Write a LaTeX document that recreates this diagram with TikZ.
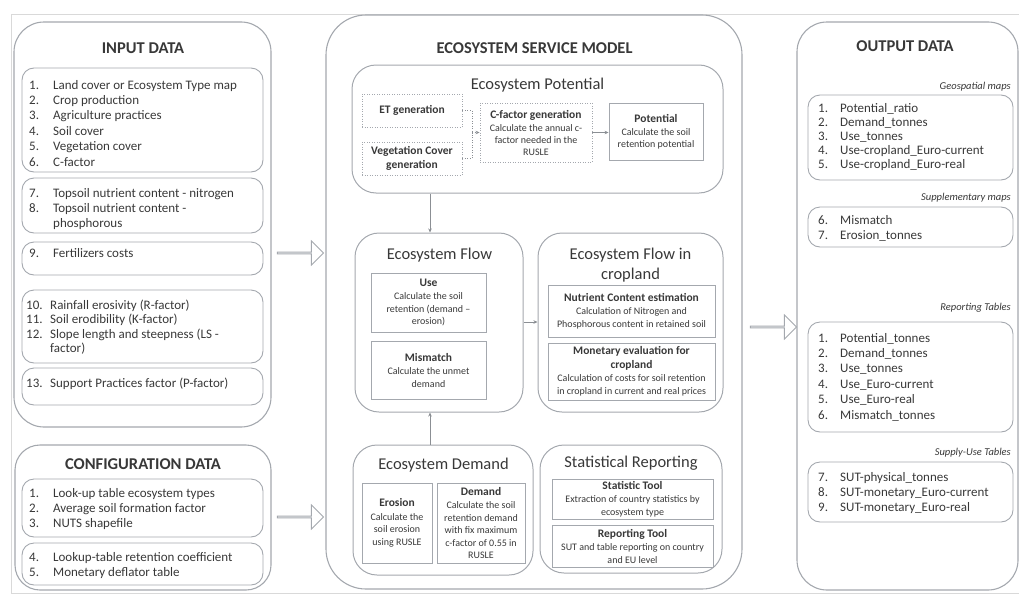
\documentclass[tikz,border=0pt]{standalone}
\usepackage{fontspec}
\setmainfont{Carlito}
\usetikzlibrary{fit,arrows.meta,shapes.arrows}
\definecolor{txt}{HTML}{383838}
\definecolor{brd}{HTML}{A4A8AE}
\definecolor{frm}{HTML}{D9D9D9}
\newcommand\ttl[1]{{\fontsize{11.5}{13}\selectfont\bfseries #1}}
\tikzset{
 outer/.style={draw=brd, line width=1.1pt, rounded corners=30pt, inner sep=0pt},
 inbox/.style={draw=brd, line width=0.9pt, rounded corners=12pt, inner sep=0pt},
 group/.style={draw=brd, line width=1pt, rounded corners=24pt, inner sep=0pt},
 subbox/.style={draw=brd, line width=0.9pt, inner sep=0pt},
 dotsub/.style={draw=brd, line width=0.9pt, dash pattern=on 1pt off 1.5pt, inner sep=0pt},
 bigtitle/.style={font=\fontsize{16.5}{18}\selectfont\bfseries, text=txt, inner sep=0pt},
 grptitle/.style={font=\fontsize{16.5}{20}\selectfont, text=txt, inner sep=0pt, align=center},
 desc/.style={font=\fontsize{10}{12.5}\selectfont, text=txt, align=center, inner sep=0pt},
 lst/.style={font=\fontsize{13}{15.4}\selectfont, text=txt, inner sep=0pt, anchor=base west},
 subhead/.style={font=\fontsize{10.5}{12}\selectfont\itshape, text=txt, inner sep=0pt, anchor=base east},
 conn/.style={draw=brd!85!black, line width=0.6pt, -{Stealth[length=4pt,width=3.5pt]}},
 dotconn/.style={draw=brd!85!black, line width=0.6pt, dash pattern=on 1pt off 1.5pt},
 blockarrow/.style={single arrow, draw=brd, line width=1pt, fill=white, minimum height=46pt,
   minimum width=24pt, single arrow head extend=6pt, inner sep=0pt, single arrow tip angle=90},
}
\begin{document}
\begin{tikzpicture}[x=1pt,y=-1pt]
\useasboundingbox (0,0) rectangle (1019,597);
% faint frame
\draw[frm, line width=0.8pt] (1019,14) -- (11,14) -- (11,593) -- (1019,593);

% ---------------- INPUT DATA ----------------
\node[outer, fit={(14,22)(271,427)}] (input) {};
\node[bigtitle] (inputT) at (143,48) {INPUT DATA};
\node[inbox, fit={(22,68)(263,172)}] (in1) {};
\node[lst] (in1t) at (29,89) {\begin{tabular}[t]{@{}p{24pt}@{}l@{}}
1. & Land cover or Ecosystem Type map\\
2. & Crop production\\
3. & Agriculture practices\\
4. & Soil cover\\
5. & Vegetation cover\\
6. & C-factor\end{tabular}};
\node[inbox, fit={(22,178)(263,233)}] (in2) {};
\node[lst] (in2t) at (29,197) {\begin{tabular}[t]{@{}p{24pt}@{}l@{}}
7. & Topsoil nutrient content - nitrogen\\
8. & Topsoil nutrient content -\\
   & phosphorous\end{tabular}};
\node[inbox, fit={(22,242)(263,275)}] (in3) {};
\node[lst] (in3t) at (29,257) {\begin{tabular}[t]{@{}p{24pt}@{}l@{}}
9. & Fertilizers costs\end{tabular}};
\node[inbox, fit={(22,290)(263,363)}] (in4) {};
\node[lst, font=\fontsize{13}{14.6}\selectfont] (in4t) at (26,309) {\begin{tabular}[t]{@{}p{24pt}@{}l@{}}
10. & Rainfall erosivity (R-factor)\\
11. & Soil erodibility (K-factor)\\
12. & Slope length and steepness (LS -\\
    & factor)\end{tabular}};
\node[inbox, fit={(22,368)(263,405)}] (in5) {};
\node[lst] (in5t) at (26,387) {\begin{tabular}[t]{@{}p{24pt}@{}l@{}}
13. & Support Practices factor (P-factor)\end{tabular}};

% ---------------- CONFIGURATION DATA ----------------
\node[outer, rounded corners=25pt, fit={(15,445)(271,590)}] (config) {};
\node[bigtitle] (configT) at (143,464) {CONFIGURATION DATA};
\node[inbox, fit={(22,479)(263,537)}] (cf1) {};
\node[lst] (cf1t) at (29,497) {\begin{tabular}[t]{@{}p{24pt}@{}l@{}}
1. & Look-up table ecosystem types\\
2. & Average soil formation factor\\
3. & NUTS shapefile\end{tabular}};
\node[inbox, fit={(22,543)(263,585)}] (cf2) {};
\node[lst, font=\fontsize{13}{15}\selectfont] (cf2t) at (29,561) {\begin{tabular}[t]{@{}p{24pt}@{}l@{}}
4. & Lookup-table retention coefficient\\
5. & Monetary deflator table\end{tabular}};

% block arrows
\node[blockarrow] (arrIn) at (300,253) {};
\node[blockarrow] (arrCf) at (300,517) {};
\node[blockarrow] (arrOut) at (773,327) {};

% ---------------- ECOSYSTEM SERVICE MODEL ----------------
\node[outer, rounded corners=40pt, fit={(326,15)(742,589)}] (model) {};
\node[bigtitle] (modelT) at (534.5,48) {ECOSYSTEM SERVICE MODEL};

% Potential
\node[group, fit={(352,65)(723,193)}] (epot) {};
\node[grptitle] (epotT) at (537.5,85) {Ecosystem Potential};
\node[dotsub, fit={(362,94)(462,127)}] (et) {};
\node[desc] (ett) at (et.center) {\ttl{ET generation}};
\node[dotsub, fit={(362,142)(462,175)}] (veg) {};
\node[desc] (vegt) at (veg.center) {\ttl{Vegetation Cover}\\[1.5pt]\ttl{generation}};
\node[dotsub, fit={(480,103)(592,162)}] (cfac) {};
\node[desc, font=\fontsize{10}{12}\selectfont] (cfact) at (cfac.center) {\ttl{C-factor generation}\\[1pt]Calculate the annual c-\\factor needed in the\\RUSLE};
\node[subbox, fit={(609,103)(703,160)}] (pot) {};
\node[desc, font=\fontsize{10}{12}\selectfont] (pott) at (pot.center) {\ttl{Potential}\\[1pt]Calculate the soil\\retention potential};
\coordinate (join) at (472,132.5);
\draw[dotconn] (et.east) -| (join);
\draw[dotconn] (veg.east) -| (join);
\draw[conn, dash pattern=on 1pt off 1.5pt] (join) -- (cfac.west |- join);
\draw[conn] (cfac.east |- join) -- (pot.west |- join);

% Flow
\coordinate (vx) at (430,0);
\coordinate (hy) at (0,322);
\node[group, fit={(355,233)(523,412)}] (flow) {};
\node[grptitle] (flowT) at (439.5,255) {Ecosystem Flow};
\node[subbox, fit={(371,273)(486,332)}] (use) {};
\node[desc] (uset) at (use.center) {\ttl{Use}\\[1pt]Calculate the soil\\retention (demand –\\erosion)};
\node[subbox, fit={(371,341)(486,399)}] (mis) {};
\node[desc] (mist) at (mis.center) {\ttl{Mismatch}\\[1pt]Calculate the unmet\\demand};

% Flow in cropland
\node[group, fit={(538,233)(723,412)}] (crop) {};
\node[grptitle] (cropT) at (630.5,265) {Ecosystem Flow in\\cropland};
\node[subbox, fit={(548,285)(715,337)}] (nut) {};
\node[desc] (nutt) at (nut.center) {\ttl{Nutrient Content estimation}\\[1pt]Calculation of Nitrogen and\\Phosphorous content in retained soil};
\node[subbox, fit={(548,343)(715,400)}] (mon) {};
\node[desc] (mont) at (mon.center) {\ttl{Monetary evaluation for}\\[1pt]\ttl{cropland}\\[1pt]Calculation of costs for soil retention\\in cropland in current and real prices};

% Demand
\node[group, fit={(353,445)(533,575)}] (dem) {};
\node[grptitle] (demT) at (443.5,465) {Ecosystem Demand};
\node[subbox, fit={(362,483)(432,563)}] (ero) {};
\node[desc] (erot) at (ero.center) {\ttl{Erosion}\\[1pt]Calculate the\\soil erosion\\using RUSLE};
\node[subbox, fit={(437,483)(525,563)}] (dmd) {};
\node[desc] (dmdt) at (dmd.center) {\ttl{Demand}\\[1pt]Calculate the soil\\retention demand\\with fix maximum\\c-factor of 0.55 in\\RUSLE};

% Statistical reporting
\node[group, fit={(540,445)(722,573)}] (stat) {};
\node[grptitle] (statT) at (631,463) {Statistical Reporting};
\node[subbox, fit={(552,479)(713,519)}] (stt) {};
\node[desc] (sttt) at (stt.center) {\ttl{Statistic Tool}\\[1pt]Extraction of country statistics by\\ecosystem type};
\node[subbox, fit={(552,525)(713,567)}] (rpt) {};
\node[desc] (rptt) at (rpt.center) {\ttl{Reporting Tool}\\[1pt]SUT and table reporting on country\\and EU level};

% connectors
\draw[conn] (epot.south -| vx) -- (flow.north -| vx);
\draw[conn] (dem.north -| vx) -- (flow.south -| vx);
\draw[conn] (flow.east |- hy) -- (crop.west |- hy);

% ---------------- OUTPUT DATA ----------------
\node[outer, fit={(797,22)(1018,590)}] (output) {};
\node[bigtitle] (outputT) at (905,46) {OUTPUT DATA};
\node[subhead] (geoT) at (1011,89) {Geospatial maps};
\node[inbox, fit={(808,95)(1013,180)}] (ob1) {};
\node[lst, font=\fontsize{13}{14}\selectfont] (ob1t) at (818,112) {\begin{tabular}[t]{@{}p{22pt}@{}l@{}}
1. & Potential\_ratio\\
2. & Demand\_tonnes\\
3. & Use\_tonnes\\
4. & Use-cropland\_Euro-current\\
5. & Use-cropland\_Euro-real\end{tabular}};
\node[subhead] (supT) at (1011,200) {Supplementary maps};
\node[inbox, fit={(808,207)(1013,247)}] (ob2) {};
\node[lst, font=\fontsize{13}{15}\selectfont] (ob2t) at (818,224) {\begin{tabular}[t]{@{}p{22pt}@{}l@{}}
6. & Mismatch\\
7. & Erosion\_tonnes\end{tabular}};
\node[subhead] (repT) at (1011,310) {Reporting Tables};
\node[inbox, fit={(808,322)(1013,432)}] (ob3) {};
\node[lst] (ob3t) at (818,342) {\begin{tabular}[t]{@{}p{22pt}@{}l@{}}
1. & Potential\_tonnes\\
2. & Demand\_tonnes\\
3. & Use\_tonnes\\
4. & Use\_Euro-current\\
5. & Use\_Euro-real\\
6. & Mismatch\_tonnes\end{tabular}};
\node[subhead] (sutT) at (1011,455) {Supply-Use Tables};
\node[inbox, fit={(808,462)(1013,522)}] (ob4) {};
\node[lst, font=\fontsize{13}{15}\selectfont] (ob4t) at (818,481) {\begin{tabular}[t]{@{}p{22pt}@{}l@{}}
7. & SUT-physical\_tonnes\\
8. & SUT-monetary\_Euro-current\\
9. & SUT-monetary\_Euro-real\end{tabular}};
\end{tikzpicture}
\end{document}
